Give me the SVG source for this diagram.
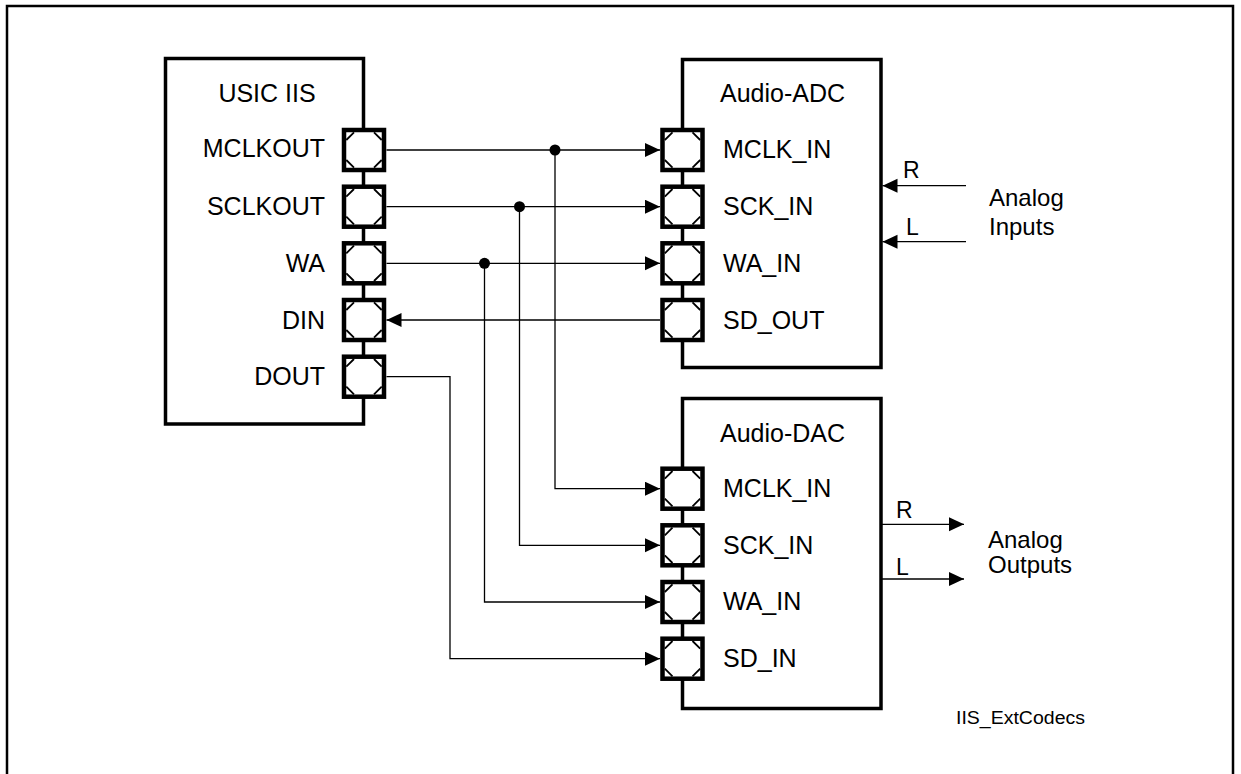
<svg xmlns="http://www.w3.org/2000/svg" width="1241" height="774" viewBox="0 0 1241 774">
<style>
text{font-family:"Liberation Sans",Arial,sans-serif;font-size:25px;fill:#000}
.box{fill:#fff;stroke:#000;stroke-width:3.5}
.pin{fill:#fff;stroke:#000;stroke-width:4.5}
.cor{stroke:#000;stroke-width:1.8;fill:none}
.w{fill:none;stroke:#000;stroke-width:1.3}
.sm{font-size:18px}
</style>
<defs>
<marker id="ah" markerUnits="userSpaceOnUse" markerWidth="16" markerHeight="15" refX="15" refY="7" orient="auto">
<path d="M0,0 L15,7 L0,14 z" fill="#000"/>
</marker>
<g id="p">
<rect class="pin" x="-20" y="-20" width="40" height="40"/>
<path class="cor" d="M-17.7,-10 L-10,-17.7 M10,-17.7 L17.7,-10 M-17.7,10 L-10,17.7 M10,17.7 L17.7,10"/>
</g>
</defs>
<rect x="7" y="6" width="1226" height="800" fill="#fff" stroke="#000" stroke-width="2.5"/>

<g id="connectors">
<path class="w" d="M386.5,150 H660" marker-end="url(#ah)"/>
<path class="w" d="M386.5,206.7 H660" marker-end="url(#ah)"/>
<path class="w" d="M386.5,263.3 H660" marker-end="url(#ah)"/>
<path class="w" d="M660,320 H386.5" marker-end="url(#ah)"/>
<path class="w" d="M555,150 V488.7 H660" marker-end="url(#ah)"/>
<path class="w" d="M519.5,206.7 V545.3 H660" marker-end="url(#ah)"/>
<path class="w" d="M484.5,263.3 V602 H660" marker-end="url(#ah)"/>
<path class="w" d="M386.5,376.7 H450 V658.7 H660" marker-end="url(#ah)"/>
<circle cx="555" cy="150" r="5.5"/>
<circle cx="519.5" cy="206.7" r="5.5"/>
<circle cx="484.5" cy="263.3" r="5.5"/>
<path class="w" d="M966,185.7 H882.5" marker-end="url(#ah)"/>
<path class="w" d="M966,241.7 H882.5" marker-end="url(#ah)"/>
<path class="w" d="M881,524.3 H964" marker-end="url(#ah)"/>
<path class="w" d="M881,579 H964" marker-end="url(#ah)"/>
</g>

<g id="usic">
<rect class="box" x="165.5" y="58.5" width="198" height="365.5"/>
<use href="#p" x="364" y="150"/>
<use href="#p" x="364" y="206.7"/>
<use href="#p" x="364" y="263.3"/>
<use href="#p" x="364" y="320"/>
<use href="#p" x="364" y="376.7"/>
<text x="267" y="102" text-anchor="middle">USIC IIS</text>
<text x="325" y="157" text-anchor="end">MCLKOUT</text>
<text x="325" y="215" text-anchor="end">SCLKOUT</text>
<text x="325" y="272" text-anchor="end">WA</text>
<text x="325" y="329" text-anchor="end">DIN</text>
<text x="325" y="385" text-anchor="end">DOUT</text>
</g>

<g id="adc">
<rect class="box" x="682.5" y="59.5" width="198.5" height="308"/>
<use href="#p" x="682.5" y="150"/>
<use href="#p" x="682.5" y="206.7"/>
<use href="#p" x="682.5" y="263.3"/>
<use href="#p" x="682.5" y="320"/>
<text x="782.5" y="102" text-anchor="middle">Audio-ADC</text>
<text x="723" y="158">MCLK_IN</text>
<text x="723" y="215">SCK_IN</text>
<text x="723" y="272">WA_IN</text>
<text x="723" y="329">SD_OUT</text>
</g>

<g id="dac">
<rect class="box" x="682.5" y="398.5" width="198.5" height="310"/>
<use href="#p" x="682.5" y="488.7"/>
<use href="#p" x="682.5" y="545.3"/>
<use href="#p" x="682.5" y="602"/>
<use href="#p" x="682.5" y="658.7"/>
<text x="782.5" y="442" text-anchor="middle">Audio-DAC</text>
<text x="723" y="497">MCLK_IN</text>
<text x="723" y="554">SCK_IN</text>
<text x="723" y="610">WA_IN</text>
<text x="723" y="667">SD_IN</text>
</g>

<g id="inputs">
<text x="903" y="178" style="font-size:23px">R</text>
<text x="906" y="235" style="font-size:23px">L</text>
<text x="989" y="206" style="font-size:24px">Analog</text>
<text x="989" y="235" style="font-size:24px">Inputs</text>
</g>
<g id="outputs">
<text x="896" y="518" style="font-size:23px">R</text>
<text x="896" y="575" style="font-size:23px">L</text>
<text x="988" y="548" style="font-size:24px">Analog</text>
<text x="988" y="573" style="font-size:24px">Outputs</text>
</g>
<text class="sm" x="956" y="724" textLength="129" lengthAdjust="spacingAndGlyphs">IIS_ExtCodecs</text>
</svg>
